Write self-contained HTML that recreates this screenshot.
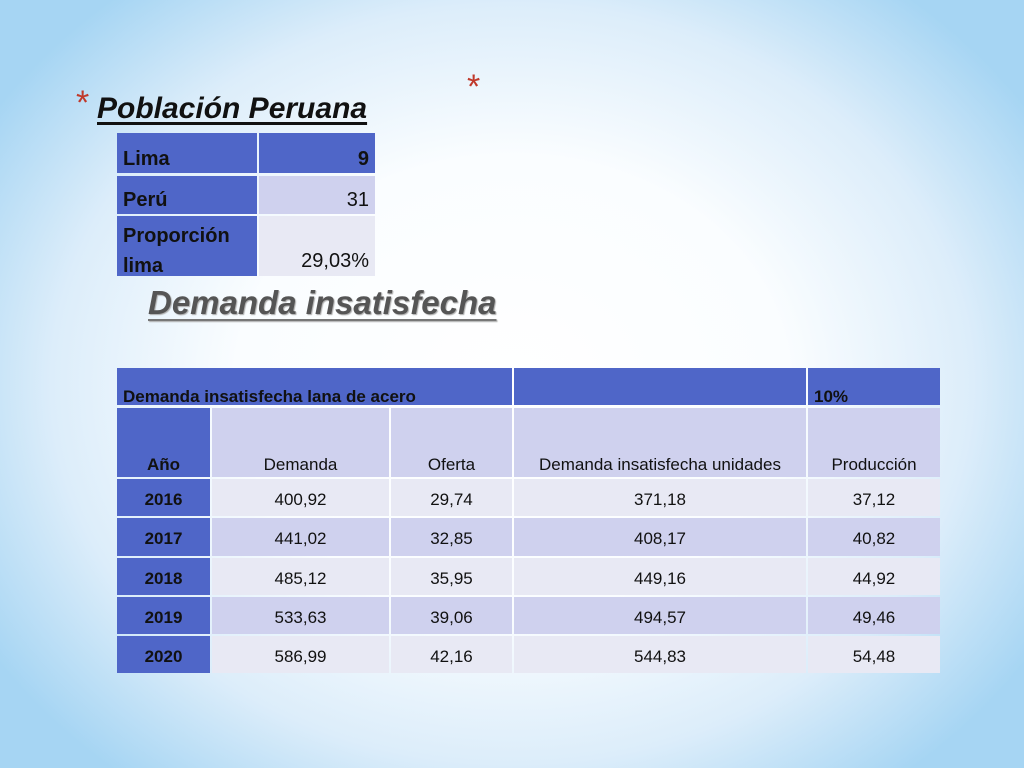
<!DOCTYPE html>
<html><head><meta charset="utf-8"><style>
body{margin:0;width:1024px;height:768px;overflow:hidden;font-family:"Liberation Sans",sans-serif;}
#bg{position:absolute;left:0;top:0;width:1024px;height:768px;background:radial-gradient(ellipse 60% 66% at 50% 50%,#ffffff 0%,#fafdff 45%,#dcedfa 75%,#a6d5f3 100%);}
.c{position:absolute;box-sizing:border-box;font-size:17px;color:#111;line-height:1;}
.b{background:#4f66c8;}
.l{background:#cfd1ee;}
.p{background:#e8e9f4;}
.ast{position:absolute;color:#c0392b;font-size:34px;}
</style></head><body>
<div id="bg"></div>
<div class="ast" style="left:76px;top:84px">*</div>
<div class="ast" style="left:467px;top:68px">*</div>
<div style="position:absolute;left:97px;top:92px;font-size:30px;font-weight:bold;font-style:italic;text-decoration:underline;text-decoration-thickness:3px;text-underline-offset:4px;color:#111">Población Peruana</div>

<div>
<div class="c b" style="left:117px;top:133px;width:140px;height:40px;font-size:20px;font-weight:bold;padding:16px 0 0 6px">Lima</div>
<div class="c b" style="left:259px;top:133px;width:116px;height:40px;font-size:20px;font-weight:bold;text-align:right;padding:16px 6px 0 0">9</div>
<div class="c b" style="left:117px;top:176px;width:140px;height:38px;font-size:20px;font-weight:bold;padding:14px 0 0 6px">Perú</div>
<div class="c l" style="left:259px;top:176px;width:116px;height:38px;font-size:20px;text-align:right;padding:14px 6px 0 0">31</div>
<div class="c b" style="left:117px;top:216px;width:140px;height:60px;font-size:20px;font-weight:bold;padding:5px 0 0 6px;line-height:30px">Proporción<br>lima</div>
<div class="c p" style="left:259px;top:216px;width:116px;height:60px;font-size:20px;text-align:right;padding:35px 6px 0 0">29,03%</div>
</div>

<div style="position:absolute;left:148px;top:284px;font-size:33px;font-weight:bold;font-style:italic;color:#555;text-decoration:underline;text-decoration-color:#777;text-decoration-thickness:2px;text-underline-offset:5px;text-shadow:1px 1px 1px #aaa">Demanda insatisfecha</div>

<div id="tbl"></div>
<script>
const years=["2016","2017","2018","2019","2020"];
const demanda=["400,92","441,02","485,12","533,63","586,99"];
const oferta=["29,74","32,85","35,95","39,06","42,16"];
const insat=["371,18","408,17","449,16","494,57","544,83"];
const produccion=["37,12","40,82","44,92","49,46","54,48"];
const tbl=document.getElementById('tbl');
const cols=[[117,210],[212,389],[391,512],[514,806],[808,940]];
function cell(x,y,w,h,cls,txt,align,pad,bold,name){
 const d=document.createElement('div');
 d.className='c '+cls;
 d.style.left=x+'px';d.style.top=y+'px';d.style.width=w+'px';d.style.height=h+'px';
 d.style.textAlign=align;d.style.paddingTop=pad+'px';
 if(align==='left')d.style.paddingLeft='6px';
 if(bold)d.style.fontWeight='bold';
 d.textContent=txt;
 
 
 tbl.appendChild(d);
}
cell(117,368,395,37,'b','Demanda insatisfecha lana de acero','left',20,true,'table-caption');
cell(514,368,292,37,'b','','left',20,false,'header-empty');
cell(808,368,132,37,'b','10%','left',20,true,'rate-cell');
const heads=["Año","Demanda","Oferta","Demanda insatisfecha unidades","Producción"];
heads.forEach((h,i)=>cell(cols[i][0],408,cols[i][1]-cols[i][0],69,i===0?'b':'l',h,'center',48,i===0,'header-'+i));
const rowsY=[479,518,558,597,636];
years.forEach((yr,r)=>{
 const y=rowsY[r],h=(r<4?rowsY[r+1]:675)-y-2;
 const cls=r%2===0?'p':'l';
 const vals=[yr,demanda[r],oferta[r],insat[r],produccion[r]];
 vals.forEach((v,i)=>cell(cols[i][0],y,cols[i][1]-cols[i][0],h,i===0?'b':cls,v,'center',12,i===0,'row-'+yr+'-col-'+i));
});
</script>
</body></html>
